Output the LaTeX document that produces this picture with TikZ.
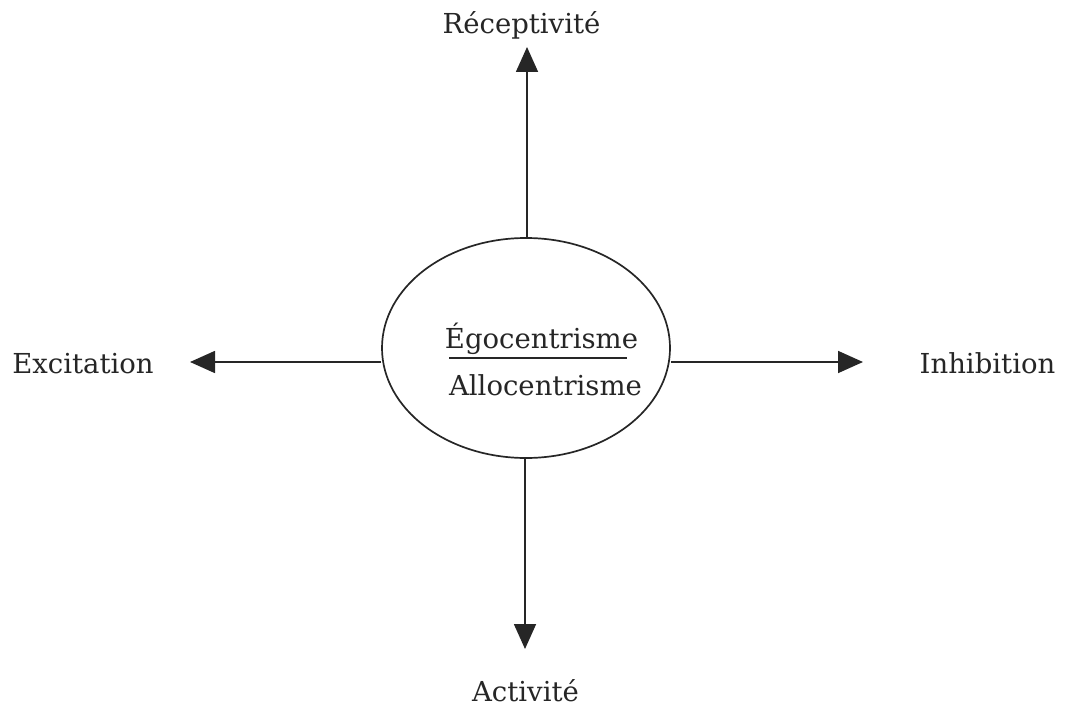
\documentclass[tikz,border=0pt]{standalone}
\usepackage{fontspec}
\setmainfont{DejaVu Serif}
\usetikzlibrary{arrows.meta,shapes.geometric}
\tikzset{
  lbl/.style={font=\fontsize{27.5}{30}\selectfont, inner sep=0pt, text=black!85},
  conn/.style={line width=1.7pt, draw=black!85, -{Triangle[length=25pt,width=22pt]}},
  oval/.style={ellipse, draw=black!85, line width=1.7pt, minimum width=288pt, minimum height=220pt, inner sep=0pt}
}
\begin{document}
\begin{tikzpicture}[x=1pt,y=-1pt]
\useasboundingbox (0,0) rectangle (1073,711);
\node[oval] (e) at (526,348) {};
\node[lbl, anchor=base] (ego) at (541.5,348) {Égocentrisme};
\node[lbl, anchor=base] (allo) at (545.5,395) {Allocentrisme};
\coordinate (fl) at (449,358);
\coordinate (fr) at (627,358);
\draw[line width=1.2pt, draw=black!85] (fl) -- (fr);
\node[lbl, anchor=base] (rec) at (521.5,34) {Réceptivité};
\node[lbl, anchor=base] (act) at (525.5,701) {Activité};
\node[lbl, anchor=base] (exc) at (83,373) {Excitation};
\node[lbl, anchor=base] (inh) at (987.5,373) {Inhibition};
\coordinate (tN) at (527,47);
\coordinate (tS) at (525,649);
\coordinate (tW) at (190,362);
\coordinate (tE) at (863,362);
\draw[conn] (e.north -| tN) -- (tN);
\draw[conn] (e.south -| tS) -- (tS);
\draw[conn] (tW -| e.west) -- (tW);
\draw[conn] (tE -| e.east) -- (tE);
\end{tikzpicture}
\end{document}
